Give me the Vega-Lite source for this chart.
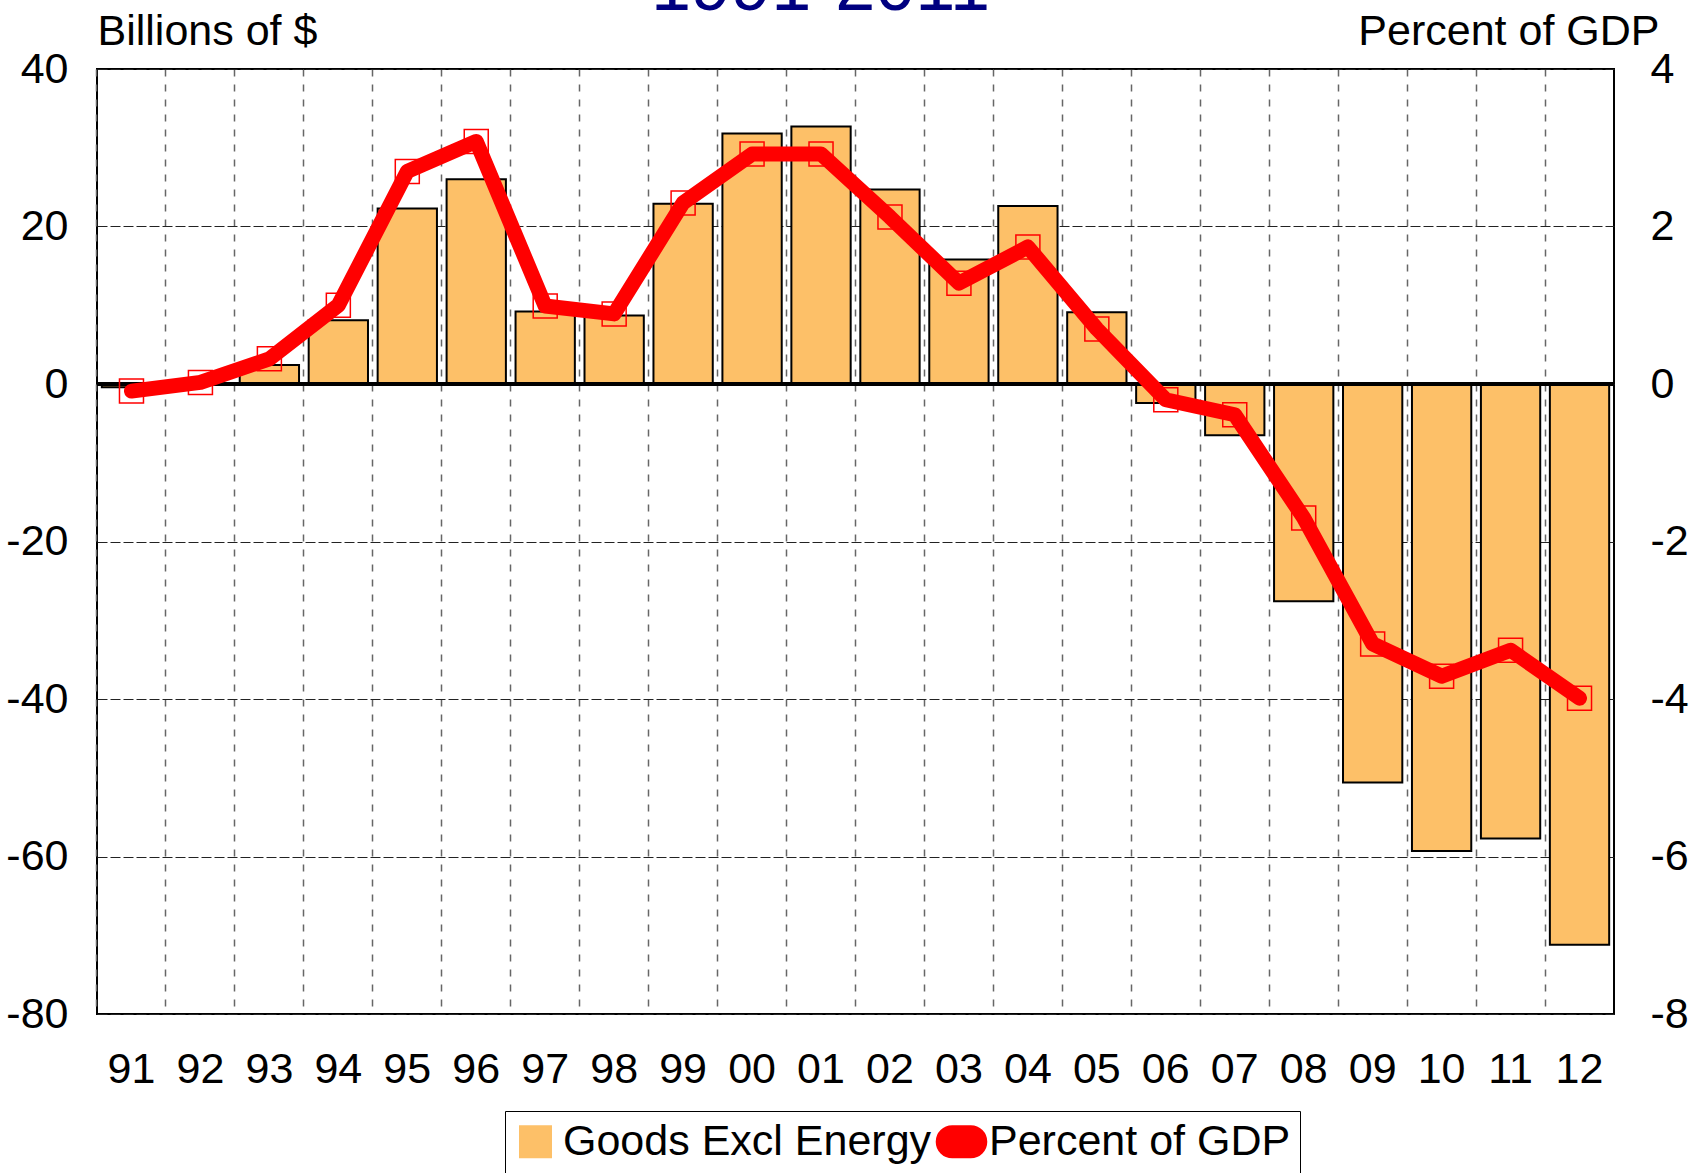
{
  "$schema": "https://vega.github.io/schema/vega-lite/v6.json",
  "width": 1517,
  "height": 945,
  "autosize": {"type": "none"},
  "padding": {"left": 97, "top": 69, "right": 77, "bottom": 159},
  "background": "white",
  "data": {
    "values": [
      {"year": "91", "goods": -0.4, "pct": -0.09},
      {"year": "92", "goods": 0.1, "pct": 0.02},
      {"year": "93", "goods": 2.4, "pct": 0.32},
      {"year": "94", "goods": 8.1, "pct": 1.0},
      {"year": "95", "goods": 22.3, "pct": 2.7},
      {"year": "96", "goods": 26.0, "pct": 3.08},
      {"year": "97", "goods": 9.2, "pct": 0.99},
      {"year": "98", "goods": 8.7, "pct": 0.89},
      {"year": "99", "goods": 22.9, "pct": 2.3},
      {"year": "00", "goods": 31.8, "pct": 2.92},
      {"year": "01", "goods": 32.7, "pct": 2.92},
      {"year": "02", "goods": 24.7, "pct": 2.12},
      {"year": "03", "goods": 15.8, "pct": 1.28},
      {"year": "04", "goods": 22.6, "pct": 1.74},
      {"year": "05", "goods": 9.1, "pct": 0.7},
      {"year": "06", "goods": -2.4, "pct": -0.2},
      {"year": "07", "goods": -6.5, "pct": -0.39},
      {"year": "08", "goods": -27.6, "pct": -1.7},
      {"year": "09", "goods": -50.6, "pct": -3.3},
      {"year": "10", "goods": -59.3, "pct": -3.71},
      {"year": "11", "goods": -57.7, "pct": -3.38},
      {"year": "12", "goods": -71.2, "pct": -3.99}
    ]
  },
  "layer": [
    {
      "layer": [
        {
          "mark": {"type": "bar", "stroke": "black", "strokeWidth": 2},
          "encoding": {
            "x": {
              "field": "year", "type": "ordinal", "sort": null,
              "scale": {"paddingInner": 0.14, "paddingOuter": 0.07},
              "axis": {
                "orient": "bottom",
                "bandPosition": -0.0814, "grid": true, "gridDash": [7, 8], "gridColor": "#666", "gridWidth": 1.5,
                "ticks": false, "domain": false, "labelAngle": 0, "labelPadding": 34,
                "labelFontSize": 43, "labelFont": "Liberation Sans", "labelColor": "black", "title": null
              }
            },
            "y": {
              "field": "goods", "type": "quantitative",
              "scale": {"domain": [-80, 40], "nice": false, "zero": false},
              "axis": {
                "orient": "left", "values": [-80, -60, -40, -20, 0, 20, 40], "labelExpr": "'' + datum.value",
                "grid": true, "gridColor": "#222", "gridDash": [10, 3], "gridWidth": 1,
                "ticks": false, "domain": false, "labelFontSize": 43, "labelFont": "Liberation Sans",
                "labelColor": "black", "labelPadding": 29, "labelOverlap": false, "labelFlush": false, "labelBound": false,
                "title": "Billions of $", "titleAngle": 0, "titleX": 0, "titleY": -25, "titleAlign": "left",
                "titleBaseline": "alphabetic", "titleFontSize": 43, "titleFont": "Liberation Sans",
                "titleFontWeight": "normal", "titleColor": "black"
              }
            },
            "color": {
              "datum": "Goods Excl Energy",
              "scale": {"domain": ["Goods Excl Energy", "Percent of GDP"], "range": ["#FDC068", "#FF0000"]},
              "legend": {
                "orient": "none", "legendX": 408, "legendY": 1042, "direction": "horizontal", "title": null,
                "labelFont": "Liberation Sans", "labelFontSize": 43, "labelColor": "black",
                "symbolSize": 960, "strokeColor": "black", "padding": 9, "columnPadding": 0,
                "labelOffset": 6, "labelLimit": 1000,
                "symbolType": {"expr": "datum.value === 'Percent of GDP' ? 'M-0.6,-1 L0.6,-1 A1,1 0 0 1 0.6,1 L-0.6,1 A1,1 0 0 1 -0.6,-1 Z' : 'square'"},
                "symbolStrokeColor": {"expr": "datum.value === 'Percent of GDP' ? '#FF0000' : 'black'"},
                "symbolFillColor": {"expr": "datum.value === 'Percent of GDP' ? '#FF0000' : '#FDC068'"},
                "symbolStrokeWidth": 2,
                "symbolOpacity": 1
              }
            }
          }
        },
        {
          "mark": {"type": "rule", "color": "black", "strokeWidth": 2.5},
          "encoding": {
            "y": {"datum": 0, "type": "quantitative"}
          }
        }
      ]
    },
    {
      "layer": [
        {
          "mark": {"type": "point", "shape": "square", "filled": false, "stroke": "#FF0000", "strokeWidth": 1.5, "size": 576, "opacity": 1},
          "encoding": {
            "x": {
              "field": "year", "type": "ordinal", "sort": null,
              "axis": {
                "orient": "top", "labels": false, "ticks": false, "domain": false, "grid": false,
                "title": "1991-2011", "titleX": 723, "titleY": -60, "titleAlign": "center",
                "titleBaseline": "alphabetic", "titleFontSize": 72, "titleFont": "Liberation Sans",
                "titleFontWeight": "normal", "titleColor": "#000080"
              }
            },
            "y": {
              "field": "pct", "type": "quantitative",
              "scale": {"domain": [-8, 4], "nice": false, "zero": false},
              "axis": {
                "orient": "right", "values": [-8, -6, -4, -2, 0, 2, 4], "labelExpr": "'' + datum.value",
                "grid": false, "ticks": false, "domain": false, "labelFontSize": 43, "labelFont": "Liberation Sans",
                "labelColor": "black", "labelPadding": 36, "labelOverlap": false, "labelFlush": false, "labelBound": false,
                "title": "Percent of GDP", "titleAngle": 0, "titleX": 45, "titleY": -25, "titleAlign": "right",
                "titleBaseline": "alphabetic", "titleFontSize": 43, "titleFont": "Liberation Sans",
                "titleFontWeight": "normal", "titleColor": "black"
              }
            }
          }
        },
        {
          "mark": {"type": "line", "strokeWidth": 15, "strokeCap": "round", "strokeJoin": "round"},
          "encoding": {
            "x": {"field": "year", "type": "ordinal", "sort": null},
            "y": {"field": "pct", "type": "quantitative"},
            "color": {"datum": "Percent of GDP"}
          }
        }
      ]
    }
  ],
  "resolve": {"scale": {"y": "independent"}, "axis": {"x": "independent"}},
  "config": {
    "font": "Liberation Sans",
    "view": {"stroke": "black", "strokeWidth": 2}
  }
}
